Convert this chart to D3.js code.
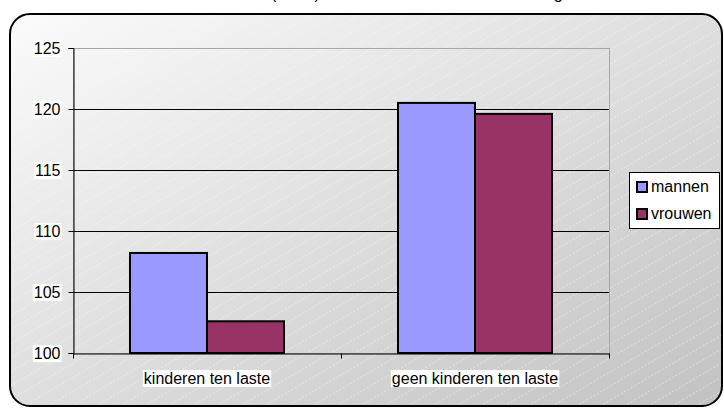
<!DOCTYPE html>
<html><head><meta charset="utf-8">
<script src="https://cdn.jsdelivr.net/npm/d3@7/dist/d3.min.js"></script>
<style>html,body{margin:0;padding:0;background:#fff;}svg{display:block;font-family:"Liberation Sans",Arial,sans-serif;}</style>
</head><body>
<svg id="c" width="724" height="409"></svg>
<script>
const titleText = "Uurloon (index) van alle mannen en vrouwen volgens kinderlast";
const categories = ["kinderen ten laste", "geen kinderen ten laste"];
const seriesNames = ["mannen", "vrouwen"];
const mannen = [108.2, 120.5];
const vrouwen = [102.6, 119.6];
const yTicks = [100, 105, 110, 115, 120, 125];
const colors = ["#9999FF", "#993366"];
const FS = 16;

const svg = d3.select("#c");
const defs = svg.append("defs");
const grad = defs.append("linearGradient").attr("id","bg").attr("x1","0").attr("y1","0").attr("x2","1").attr("y2","1");
grad.append("stop").attr("offset","0").attr("stop-color","#fbfbfb");
grad.append("stop").attr("offset","1").attr("stop-color","#c2c2c2");
const pat = defs.append("pattern").attr("id","hatch").attr("patternUnits","userSpaceOnUse")
  .attr("width",24).attr("height",14);
pat.append("path").attr("d","M0,14 L24,0").attr("stroke","#ffffff").attr("stroke-width",0.8)
  .attr("stroke-dasharray","2,2").attr("opacity",0.55);

// title (mostly clipped off the top edge, as in the reference)
const title = svg.append("text").attr("y",-1).attr("font-size",FS).attr("fill","#000").text(titleText);
const idx = titleText.indexOf("(");
const off = title.node().getSubStringLength(0, idx);
title.attr("x", 271 - off);

// outer frame
svg.append("rect").attr("x",10).attr("y",14).attr("width",712).attr("height",392).attr("rx",20).attr("ry",20)
  .attr("fill","url(#bg)");
svg.append("rect").attr("x",10).attr("y",14).attr("width",712).attr("height",392).attr("rx",20).attr("ry",20)
  .attr("fill","url(#hatch)").attr("stroke","#000").attr("stroke-width",2);

const plot = {x0:73, x1:609, y0:48, y1:353};
const x = d3.scaleBand().domain(categories).range([plot.x0, plot.x1]).paddingInner(0).paddingOuter(0);
const xs = d3.scaleBand().domain(seriesNames).range([0, x.bandwidth()]).paddingInner(0).paddingOuter(0.74);
const y = d3.scaleLinear().domain([100,125]).range([plot.y1, plot.y0]);

// plot border (light)
svg.append("rect").attr("x",plot.x0+0.5).attr("y",plot.y0+0.5).attr("width",plot.x1-plot.x0).attr("height",plot.y1-plot.y0)
  .attr("fill","none").attr("stroke","#a8a8a8").attr("stroke-width",1);

// gridlines
svg.append("g").selectAll("line").data(yTicks.filter(t=>t>100 && t<125)).join("line")
  .attr("x1",plot.x0).attr("x2",plot.x1).attr("y1",d=>Math.round(y(d))+0.5).attr("y2",d=>Math.round(y(d))+0.5)
  .attr("stroke","#000").attr("stroke-width",1);

// bars
const data = [];
categories.forEach((c,i)=>{ data.push({c, s:"mannen", v:mannen[i]}); data.push({c, s:"vrouwen", v:vrouwen[i]}); });
svg.append("g").selectAll("rect").data(data).join("rect")
  .attr("x",d=>x(d.c)+xs(d.s)).attr("width",xs.bandwidth())
  .attr("y",d=>y(d.v)).attr("height",d=>y(100)-y(d.v))
  .attr("fill",d=>colors[seriesNames.indexOf(d.s)]).attr("stroke","#000").attr("stroke-width",2);

// y axis
const yAxis = svg.append("g").attr("transform",`translate(${plot.x0+0.5},0)`)
  .call(d3.axisLeft(y).tickValues(yTicks).tickSize(5).tickPadding(0).tickFormat(d3.format("d")));
yAxis.select(".domain").attr("stroke","#000");
yAxis.selectAll(".tick line").attr("stroke","#000");
yAxis.selectAll(".tick text").remove();
yAxis.selectAll(".tick").each(function(d){
  const g = d3.select(this);
  const t = g.append("text").attr("x",-13).attr("y",0).attr("dy","0.35em").attr("text-anchor","end")
    .attr("font-size",FS).attr("fill","#000").attr("font-family","Liberation Sans, Arial, sans-serif").text(d);
  const bb = t.node().getBBox();
  g.insert("rect","text").attr("x",bb.x-1).attr("y",bb.y).attr("width",bb.width+2).attr("height",bb.height).attr("fill","#fff");
});

// x axis
const xAxis = svg.append("g").attr("transform",`translate(0,${plot.y1+0.5})`)
  .call(d3.axisBottom(x).tickSize(0).tickFormat(""));
xAxis.select(".domain").attr("stroke","#000");
xAxis.selectAll(".tick").remove();
const bounds = [plot.x0, x(categories[1]), plot.x1];
xAxis.selectAll("line.tk").data(bounds).join("line").attr("class","tk")
  .attr("x1",d=>Math.round(d)+0.5).attr("x2",d=>Math.round(d)+0.5).attr("y1",0).attr("y2",5).attr("stroke","#000");
categories.forEach(c=>{
  const cx = x(c)+x.bandwidth()/2;
  const t = svg.append("text").attr("x",cx).attr("y",384).attr("text-anchor","middle").attr("font-size",FS).attr("fill","#000").text(c);
  const bb = t.node().getBBox();
  svg.insert("rect", function(){return t.node();}).attr("x",bb.x-1).attr("y",bb.y).attr("width",bb.width+2).attr("height",bb.height).attr("fill","#fff");
});

// legend
const lg = svg.append("g");
lg.append("rect").attr("x",629.5).attr("y",172.5).attr("width",90).attr("height",56).attr("fill","#fff").attr("stroke","#000").attr("stroke-width",1);
seriesNames.forEach((s,i)=>{
  const yy = 182 + i*27;
  lg.append("rect").attr("x",637).attr("y",yy).attr("width",10).attr("height",10).attr("fill",colors[i]).attr("stroke","#000").attr("stroke-width",2);
  lg.append("text").attr("x",651).attr("y",yy+10).attr("font-size",FS).attr("fill","#000").text(s);
});
</script>
</body></html>
